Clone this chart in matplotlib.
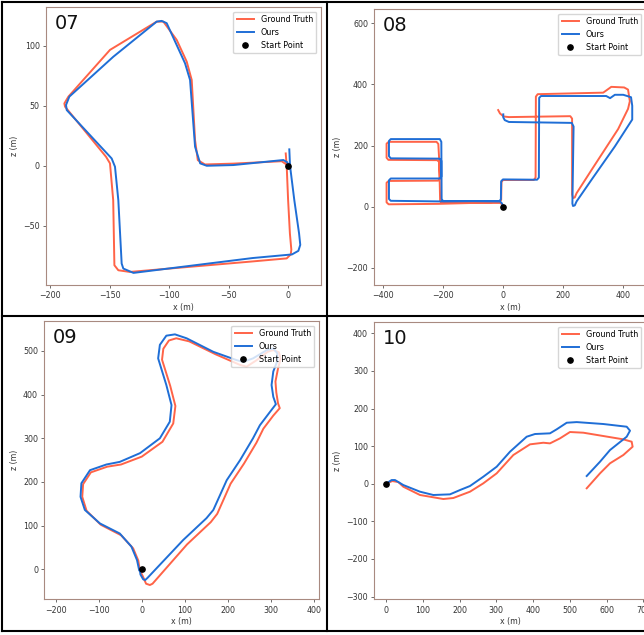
import matplotlib.pyplot as plt
from matplotlib.lines import Line2D

# ---- trajectory data (x, z in metres) ----
# sequence 07
gt07_x = [-2.2, -1.4, -0.2, 1.3, 2.5, 2.0, -1.4, -32, -133, -142.7, -146, -147, -149.7, -153, -187.4,
          -188, -184.6, -149.7, -110.5, -104.9, -93.7, -85.3, -81.1, -78.3, -76, -70, -46.2, -5.6, -2.2]
gt07_z = [10.3, 0, -28.7, -56.5, -70, -74, -77.3, -80, -88.6, -87.2, -83, -28.7, 2, 7.5, 49.3,
          52, 57.7, 96.7, 120.3, 120.3, 105, 86.9, 71.6, 21.4, 4.7, 1.1, 1.8, 3.8, 1.5]
ours07_x = [0.8, 1.4, 5.0, 9.0, 10.0, 8.4, 3.0, -30, -130, -138.5, -139.9, -142.7, -145.5, -148.3, -186,
            -186.6, -183.8, -146.9, -110.5, -106.3, -102.1, -86.7, -82.5, -78.3, -74, -68.5, -46.2, -4.2, -1.0, 1.0]
ours07_z = [13.7, 0, -28.7, -56.5, -66, -71, -74, -77, -89.4, -85.8, -81.6, -28.7, -0.8, 6.1, 46.5,
            50.7, 57.7, 91, 120.3, 120.9, 119, 85.5, 71.6, 15.9, 2, 0, 0.6, 4.8, 3.0, -2]

# sequence 08
gt08_x = [0, -3, -10, -100, -205, -210, -213, -216, -222, -382, -389, -389, -383, -220, -213, -211, -217,
          -382, -389, -389, -382, -215, -100, -10, -6, -5, 0, 103, 109, 110, 116, 335, 362, 405, 418, 424,
          418, 385, 296, 246, 240, 234, 231, 231, 225, 20, 2, -10, -16]
gt08_z = [0, 8, 12, 12, 12, 18, 150, 205, 212, 212, 206, 160, 153, 152, 146, 92, 85,
          84, 78, 14, 7.5, 9, 12, 16, 22, 80, 87, 87, 95, 360, 368, 373, 392, 390, 383, 345,
          320, 254, 120, 44, 30, 28, 40, 288, 296, 293, 295, 305, 316]
ours08_x = [0, -3, -10, -100, -200, -205, -206, -211, -375, -381, -381, -375, -212, -206, -206, -212,
            -375, -381, -381, -375, -212, -100, -12, -7, -6, 0, 114, 120, 121, 127, 345, 358, 374, 402,
            428, 432, 432, 374, 296, 246, 240, 234, 232, 236, 230, 20, 6, 1, 1]
ours08_z = [0, 10, 17, 18, 18, 25, 212, 221, 221, 215, 165, 158, 157, 150, 98, 92,
            92, 86, 25, 19, 17, 18, 18, 24, 83, 89, 88, 95, 356, 362, 362, 355, 366, 366,
            358, 330, 285, 197, 88, 17, 4, 2, 10, 262, 274, 277, 283, 292, 302]

# sequence 09
gt09_x = [-3, 2, 10, 18.8, 25, 105, 160, 175, 206, 237, 266, 282, 305, 320, 316, 312, 310, 316, 322,
          318, 305, 292, 265, 243, 228, 172, 110, 80, 63, 50, 47, 66, 78, 73, 48, 0, -48, -80, -118,
          -136, -138, -128, -95, -48, -20, -8, -5]
gt09_z = [-5, -15, -33, -36, -33, 57, 108, 127, 196, 242, 290, 322, 352, 369, 380, 405, 430, 460, 482,
          497, 502, 498, 478, 464, 468, 492, 522, 529, 524, 505, 480, 420, 374, 334, 292, 258, 240, 235, 222,
          195, 166, 134, 102, 78, 48, 20, 0]
ours09_x = [-4, -3, 3.3, 8, 13, 96, 150, 166, 197, 228, 258, 274, 297, 311, 305, 301, 305, 314, 314,
            305, 290, 258, 235, 220, 166, 104, 77, 57, 42, 38, 57, 69, 65, 42, -4, -51, -82, -120,
            -140, -142, -132, -97, -51, -24, -11, -6]
ours09_z = [-5, -12, -23, -24.5, -20, 67, 117, 136, 204, 250, 300, 330, 360, 378, 395, 422, 453, 476, 495,
            506, 502, 483, 475, 479, 498, 529, 538, 535, 514, 483, 422, 376, 338, 300, 266, 246, 240, 227,
            197, 166, 136, 105, 82, 52, 21, -2]

# sequence 10
gt10_x = [0, 17.2, 33.5, 47.1, 92.5, 156, 183.2, 228.5, 264.7, 301.1, 346.4, 391.7, 428, 446.1, 473.3,
          500.5, 536.8, 645.6, 668.3, 670.9, 645.6, 609.4, 582.2, 546]
gt10_z = [0, 7.1, 4.4, -8, -30, -40.7, -38, -21.2, 1, 27.6, 76.3, 104.7, 109, 107.3, 120.6,
          137.5, 135.7, 118, 111.7, 98.4, 76.3, 54.3, 27.6, -12.2]
ours10_x = [0, 15.4, 24.5, 47.1, 92.5, 128.7, 174, 201.3, 228.5, 264.7, 301.1, 337.3, 382.7, 405.3, 446.1,
            464.4, 491.6, 518.8, 591.1, 654.8, 663.8, 654.8, 609.4, 582.2, 546]
ours10_z = [0, 9.8, 9.8, -3.5, -21.2, -30, -28.3, -16.8, -6.1, 18.6, 45.2, 85.1, 125, 132.2, 134,
            144.7, 162.2, 163.9, 158.8, 151.6, 141, 125, 89.6, 58.5, 20.5]

names = ['07', '08', '09', '10']
gt = [(gt07_x, gt07_z), (gt08_x, gt08_z), (gt09_x, gt09_z), (gt10_x, gt10_z)]
ours = [(ours07_x, ours07_z), (ours08_x, ours08_z), (ours09_x, ours09_z), (ours10_x, ours10_z)]

W, H = 644, 635
fig = plt.figure(figsize=(W / 100, H / 100), dpi=100)

# axes boxes in pixels: left, top, right, bottom (right-hand panels run past the edge, as in the source)
boxes = [(46, 7, 321, 285), (374.3, 9, 646, 285), (44.3, 321, 319, 599.3), (374.3, 321.7, 646, 599.3)]
xlims = [(-203.4, 27.4), (-430, 478), (-226, 411), (-31.8, 707.3)]
ylims = [(-99.5, 132.5), (-256.6, 646.8), (-68.7, 568.6), (-307.4, 430.9)]
xticks = [range(-200, 1, 50), range(-400, 401, 200), range(-200, 401, 100), range(0, 701, 100)]
yticks = [range(-50, 101, 50), range(-200, 601, 200), range(0, 501, 100), range(-300, 401, 100)]

red = '#ff6347'
blue = '#1f6ed6'
spine_c = '#a88a80'

for i in range(4):
    l, t, r, b = boxes[i]
    ax = fig.add_axes([l / W, 1 - b / H, (r - l) / W, (b - t) / H])
    ax.plot(gt[i][0], gt[i][1], color=red, lw=1.4, label='Ground Truth')
    ax.plot(ours[i][0], ours[i][1], color=blue, lw=1.4, label='Ours')
    ax.plot([0], [0], 'o', color='black', ms=3.8, label='Start Point', zorder=5)
    ax.set_xlim(*xlims[i])
    ax.set_ylim(*ylims[i])
    ax.set_xticks(list(xticks[i]))
    ax.set_yticks(list(yticks[i]))
    ax.tick_params(labelsize=5.7, length=2.5, width=0.6, pad=2, color='#555', labelcolor='#333')
    for s in ax.spines.values():
        s.set_color(spine_c)
        s.set_linewidth(0.8)
    ax.set_xlabel('x (m)', fontsize=5.7, labelpad=2, color='#333')
    ax.set_ylabel('z (m)', fontsize=5.7, labelpad=3, color='#333')
    ax.text(0.03, 0.975, names[i], transform=ax.transAxes, fontsize=14, va='top', ha='left', color='#111')
    ax.legend(loc='upper right', fontsize=5.8, handlelength=2.2, borderaxespad=0.6,
              framealpha=0.8, edgecolor='#cccccc')

# black frame around the four panels
frame_kw = dict(color='black', lw=1.5, transform=fig.transFigure)
for x in (2, 326.5):
    fig.add_artist(Line2D([x / W, x / W], [1 - 2 / H, 1 - 630.5 / H], **frame_kw))
for y in (2, 316, 630.5):
    fig.add_artist(Line2D([2 / W, 1], [1 - y / H, 1 - y / H], **frame_kw))

fig.savefig('out.png', dpi=100)
